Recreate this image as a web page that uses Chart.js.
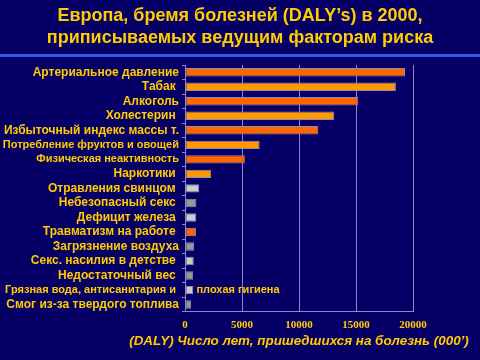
<!DOCTYPE html>
<html>
<head>
<meta charset="utf-8">
<script src="https://cdn.jsdelivr.net/npm/chart.js"></script>
<style>
  html, body { margin: 0; padding: 0; background: #060066; }
  #wrap { width: 480px; height: 360px; position: relative; }
  #title {
    position: absolute; left: 0; top: 4px; width: 480px;
    text-align: center; color: #ffcc00;
    font: bold 18px/22px Arial, "Liberation Sans", sans-serif;
  }
  #rule { position: absolute; left: 0; top: 54px; width: 480px; height: 3px; background: #3355ee; }
  canvas { position: absolute; left: 0; top: 0; }
</style>
</head>
<body>
<div id="wrap">
  <canvas id="chart" width="480" height="360"></canvas>
  <div id="title">Европа, бремя болезней (DALY’s) в 2000,<br>приписываемых ведущим факторам риска</div>
  <div id="rule"></div>
</div>
<script>
// risk factors, top to bottom (trailing spaces as on the slide)
const factors = [
  "Артериальное давление",
  "Табак ",
  "Алкоголь",
  "Холестерин ",
  "Избыточный индекс массы т.",
  "Потребление фруктов и овощей",
  "Физическая неактивность",
  "Наркотики ",
  "Отравления свинцом ",
  "Небезопасный секс ",
  "Дефицит железа ",
  "Травматизм на работе ",
  "Загрязнение воздуха",
  "Секс. насилия в детстве ",
  "Недостаточный вес ",
  "Грязная вода, антисанитария и ",
  "Смог из-за твердого топлива"
];
// DALY, thousands
const dalys = [19300, 18500, 15200, 13100, 11700, 6550, 5250, 2300,
               1250, 1000, 980, 980, 800, 770, 720, 720, 540];
// bar colour groups
const barGroup = ["red", "orange", "red", "orange", "red", "orange", "red", "orange",
                  "light", "grey", "light", "red", "grey", "light", "grey", "light", "grey"];
const xTicks = [0, 5000, 10000, 15000, 20000];
const xTitle = "(DALY) Число лет, пришедшихся на болезнь (000’)";

const palette = { red: "#ff6600", orange: "#ff9900", light: "#cccccc", grey: "#999999" };
const yellow = "#ffcc00";
const smallLabels = [5, 6, 15];
const sans = "Arial, 'Liberation Sans', sans-serif";

// axis title (wider than the plot, so not squeezed by chart.js) + wrapped label tail
const extraText = {
  id: "extraText",
  afterDraw(chart) {
    const c = chart.ctx, x = chart.scales.x, y = chart.scales.y, a = chart.chartArea;
    c.save();
    c.fillStyle = yellow;
    c.textBaseline = "middle";
    c.font = "bold 11px " + sans;
    c.fillText("плохая гигиена", x.getPixelForValue(1000), y.getPixelForValue(15));
    c.font = "italic bold 13.4px " + sans;
    c.textAlign = "center";
    c.fillText(xTitle, (a.left + a.right) / 2, a.bottom + 30);
    c.restore();
  }
};

new Chart(document.getElementById("chart"), {
  type: "bar",
  data: {
    labels: factors,
    datasets: [{
      data: dalys,
      backgroundColor: barGroup.map(g => palette[g]),
      borderColor: "#8c8cb4",
      borderWidth: 1,
      borderSkipped: false,
      barPercentage: 0.58,
      categoryPercentage: 1
    }]
  },
  options: {
    indexAxis: "y",
    responsive: false,
    animation: false,
    layout: { padding: { left: 0, right: 67, top: 65, bottom: 21 } },
    plugins: {
      legend: { display: false },
      tooltip: { enabled: false }
    },
    scales: {
      x: {
        min: 0, max: 20000,
        afterBuildTicks(s) { s.ticks = xTicks.map(v => ({ value: v })); },
        grid: { color: "#8a8ac4", lineWidth: 1, tickLength: 0 },
        border: { color: "#8a8ac4" },
        ticks: {
          color: yellow,
          padding: 7,
          callback: v => String(v),
          font: { family: "'Times New Roman', 'Liberation Serif', serif", size: 11, weight: "bold" }
        }
      },
      y: {
        afterFit(s) { s.width = 185; },
        grid: { drawOnChartArea: false, color: "#8a8ac4", tickLength: 3 },
        border: { color: "#8a8ac4" },
        ticks: {
          color: yellow,
          padding: 3,
          autoSkip: false,
          font: (ctx) => ({
            family: sans,
            size: smallLabels.includes(ctx.index) ? 11 : 12,
            weight: "bold"
          })
        }
      }
    }
  },
  plugins: [extraText]
});
</script>
</body>
</html>
